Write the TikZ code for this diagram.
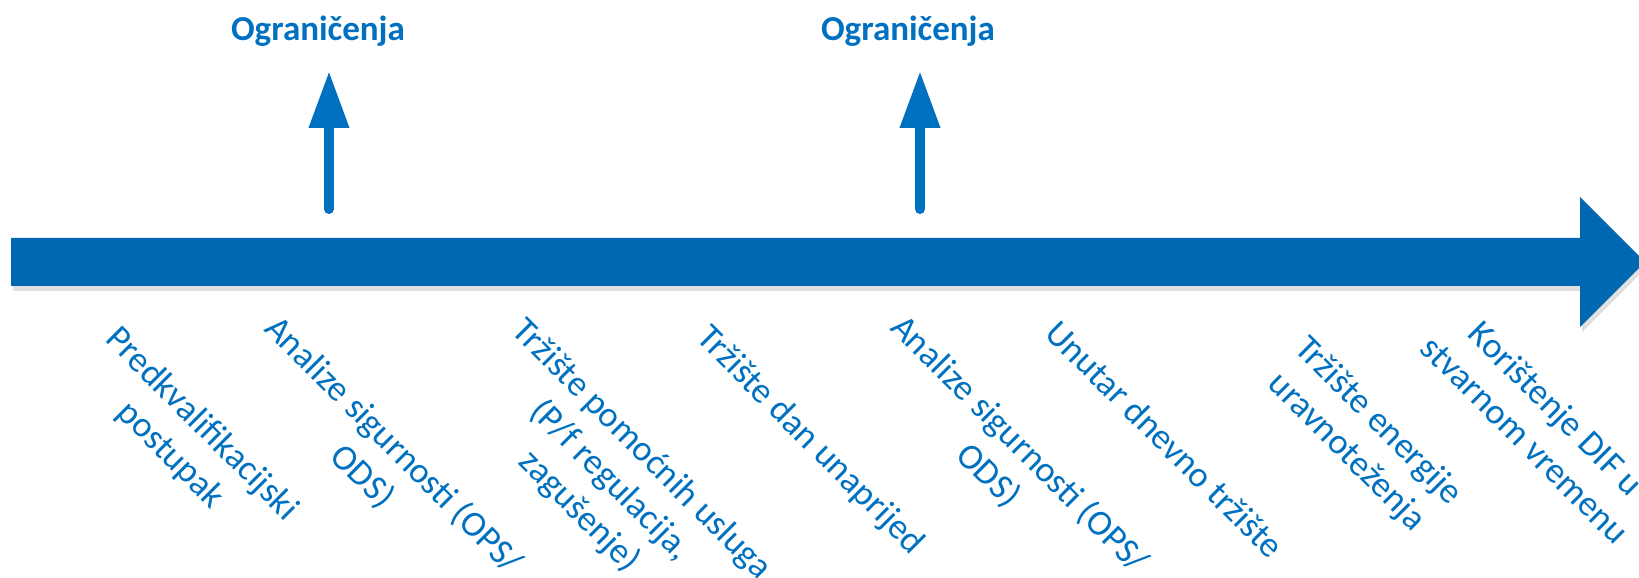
\documentclass[tikz,border=0pt]{standalone}
\usepackage{fontspec}
\setmainfont{Carlito}
\usetikzlibrary{arrows.meta,shadows}
\definecolor{ograblue}{RGB}{0,112,192}
\definecolor{barblue}{RGB}{0,104,178}
\tikzset{
  lbl/.style={rotate=-45,align=center,text=ograblue,font=\fontsize{36}{44}\selectfont},
  lim/.style={text=ograblue,font=\fontsize{35}{42}\selectfont\bfseries},
  uparrow/.style={draw=ograblue,line width=10pt,line cap=round,-{Triangle[length=57pt,width=38pt]}},
}
\begin{document}
\begin{tikzpicture}[x=1pt,y=1pt]
    \useasboundingbox (0,0) rectangle (1639,578);
    \clip (0,0) rectangle (1639,578);
    \fill[barblue,drop shadow={shadow xshift=2pt,shadow yshift=-5pt,fill=black!12,opacity=1}]
        (11,292) -- (11,340) -- (1580,340) -- (1580,381) -- (1645,316)
        -- (1580,251) -- (1580,292) -- cycle;

    \node[lim] (lim1) at (318,547) {Ograničenja};
    \node[lim] (lim2) at (908,547) {Ograničenja};
    \coordinate (b1) at (329,369);
    \coordinate (t1) at (329,507);
    \coordinate (b2) at (920,369);
    \coordinate (t2) at (920,507);
    \draw[uparrow] (b1) -- (t1);
    \draw[uparrow] (b2) -- (t2);

    \node[lbl] (predkv) at (186,138)  {Predkvalifikacijski\\postupak};
    \node[lbl] (anal1)  at (378,117)  {Analize sigurnosti (OPS/\\ODS)};
    \node[lbl] (pomoc)  at (610,97)   {Tržište pomoćnih usluga\\(P/f regulacija,\\zagušenje)};
    \node[lbl] (dan)    at (810,137)  {Tržište dan unaprijed};
    \node[lbl] (anal2)  at (1004,118) {Analize sigurnosti (OPS/\\ODS)};
    \node[lbl] (unutar) at (1165,139) {Unutar dnevno tržište};
    \node[lbl] (uravn)  at (1362,141) {Tržište energije\\uravnoteženja};
    \node[lbl] (dif)    at (1541,154) {Korištenje DIF u\\stvarnom vremenu};
\end{tikzpicture}
\end{document}
